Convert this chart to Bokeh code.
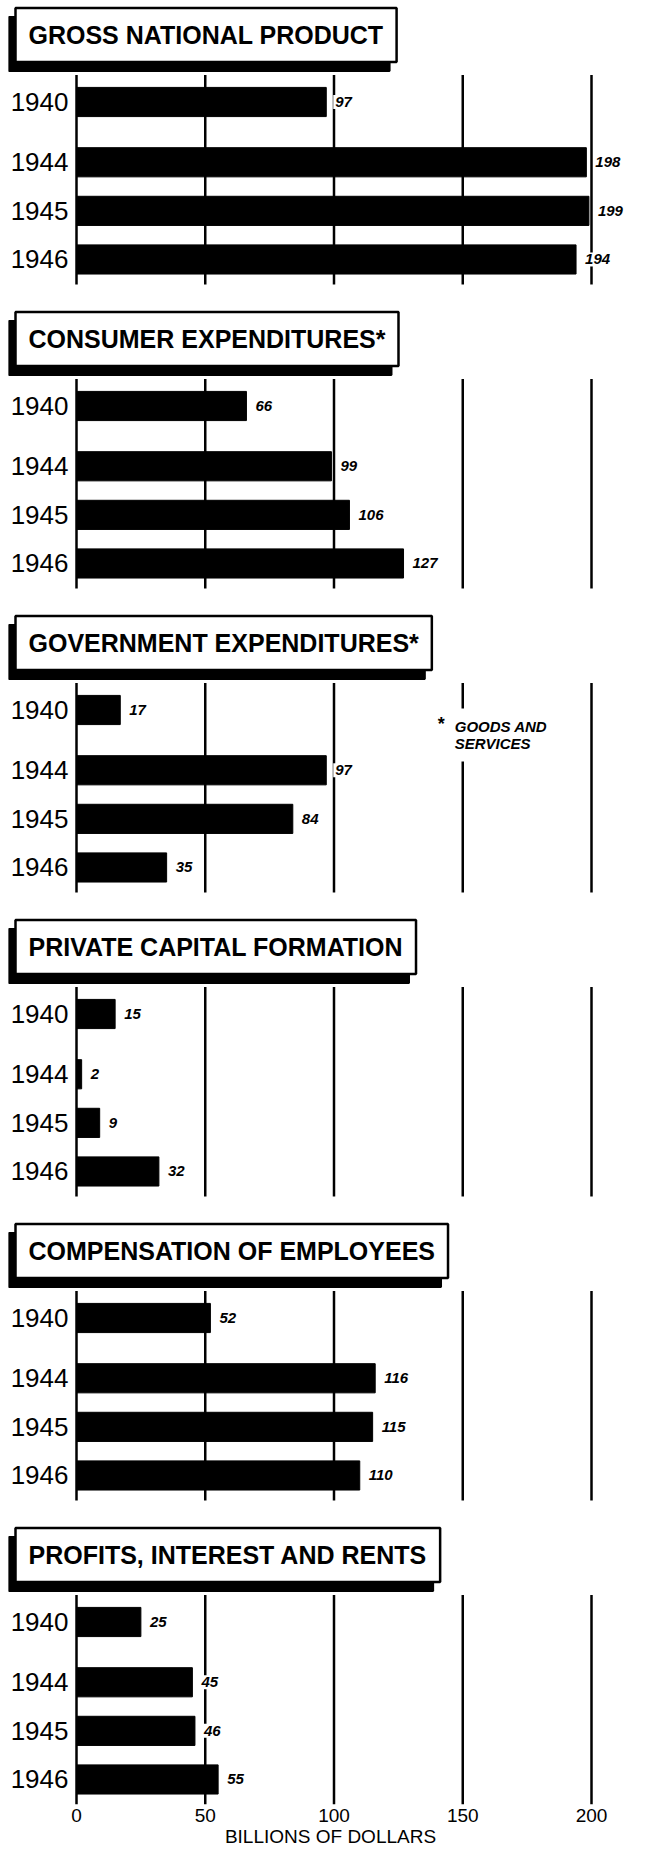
from bokeh.plotting import figure
from bokeh.layouts import column
from bokeh.models import Range1d, FixedTicker, Label
from bokeh.embed import file_html
from bokeh.resources import INLINE

# ---- data ----
years = ["1940", "1944", "1945", "1946"]
year_pos = [0.0, 1.24, 2.24, 3.24]   # gap between 1940 and 1944

titles = [
    "GROSS NATIONAL PRODUCT",
    "CONSUMER EXPENDITURES*",
    "GOVERNMENT EXPENDITURES*",
    "PRIVATE CAPITAL FORMATION",
    "COMPENSATION OF EMPLOYEES",
    "PROFITS, INTEREST AND RENTS",
]
gross_national_product = [97, 198, 199, 194]
consumer_expenditures = [66, 99, 106, 127]
government_expenditures = [17, 97, 84, 35]
private_capital_formation = [15, 2, 9, 32]
compensation_of_employees = [52, 116, 115, 110]
profits_interest_rents = [25, 45, 46, 55]
series = [gross_national_product, consumer_expenditures, government_expenditures,
          private_capital_formation, compensation_of_employees, profits_interest_rents]

x_ticks = [0, 50, 100, 150, 200]
x_label = "BILLIONS OF DOLLARS"
footnote = "GOODS AND\nSERVICES"

FONT = "Liberation Sans"
W = 652
PX_X = 2.575          # pixels per billion
ZERO_PX = 76          # page x of the value 0
PX_Y = 48.6           # pixels per row unit
LEFT_BORDER = 8
GRID_TOP, GRID_BOTTOM = -0.556, 3.755

figs = []
n = len(series)
for i, (title, vals) in enumerate(zip(titles, series)):
    last = i == n - 1
    h = 332 if last else 304
    bottom_border = 48 if last else 0
    x0 = -(ZERO_PX - LEFT_BORDER) / PX_X
    x1 = (W - ZERO_PX) / PX_X
    y_top = -101.5 / PX_Y
    y_bottom = (h - bottom_border - 101.5) / PX_Y
    p = figure(width=W, height=h, title=None, toolbar_location=None,
               output_backend="svg",
               x_range=Range1d(x0, x1),
               y_range=Range1d(y_bottom, y_top),
               x_axis_location="below" if last else None,
               y_axis_location=None,
               min_border_left=LEFT_BORDER, min_border_right=0,
               min_border_top=0, min_border_bottom=bottom_border,
               background_fill_color="white", border_fill_color="white",
               outline_line_color=None)
    p.xgrid.visible = False
    p.ygrid.visible = False

    if last:
        xa = p.xaxis[0]
        xa.ticker = FixedTicker(ticks=x_ticks)
        xa.major_label_text_font = FONT
        xa.major_label_text_font_size = "19px"
        xa.major_label_text_color = "black"
        xa.major_label_standoff = 4
        xa.major_tick_out = 0
        xa.major_tick_in = 0
        xa.minor_tick_out = 0
        xa.minor_tick_in = 0
        xa.axis_line_color = None
        xa.axis_label = x_label
        xa.axis_label_text_font = FONT
        xa.axis_label_text_font_size = "19px"
        xa.axis_label_text_font_style = "normal"
        xa.axis_label_text_color = "black"
        xa.axis_label_standoff = 1

    # vertical grid lines at the value ticks
    p.segment(x0=x_ticks, x1=x_ticks, y0=GRID_TOP, y1=GRID_BOTTOM,
              line_color="black", line_width=2.5)

    # year labels
    p.text(x=0, y=year_pos, text=years, x_offset=-8,
           text_baseline="middle", text_align="right",
           text_font={"value": FONT}, text_font_size="26px", text_color="black")

    # bars
    p.hbar(y=year_pos, left=0, right=vals, height=0.6,
           fill_color="black", line_color="black")
    # value labels
    p.text(x=vals, y=year_pos, text=[str(v) for v in vals], x_offset=7,
           text_baseline="middle", text_align="left",
           text_font={"value": FONT}, text_font_size="15px",
           text_font_style="bold italic", text_color="black",
           background_fill_color="white", padding=2)

    # title box: shadow then box
    shadow = Label(x=0, y=0, x_offset=-68, y_offset=58, text=title,
                   text_font=FONT, text_font_size="25px", text_font_style="bold",
                   text_color="black", text_baseline="middle", text_align="left",
                   background_fill_color="black", border_line_color="black",
                   border_line_width=2, padding=(13, 13))
    box = Label(x=0, y=0, x_offset=-61, y_offset=67, text=title,
                text_font=FONT, text_font_size="25px", text_font_style="bold",
                text_color="black", text_baseline="middle", text_align="left",
                background_fill_color="white", border_line_color="black",
                border_line_width=2.5, padding=(13, 13))
    p.add_layout(shadow)
    p.add_layout(box)

    if i == 2:
        fn = Label(x=150, y=0, x_offset=-12, y_offset=-25, text=footnote,
                   text_font=FONT, text_font_size="15px",
                   text_font_style="bold italic", text_color="black",
                   text_baseline="middle", text_align="left", text_line_height=0.95,
                   background_fill_color="white", padding=(4, 10))
        star = Label(x=150, y=0, x_offset=-25, y_offset=-14, text="*",
                     text_font=FONT, text_font_size="18px", text_font_style="bold",
                     text_color="black", text_baseline="middle", text_align="left")
        p.add_layout(fn)
        p.add_layout(star)

    figs.append(p)

layout = column(*figs, spacing=0)
open("out.html", "w").write(file_html(layout, INLINE))
